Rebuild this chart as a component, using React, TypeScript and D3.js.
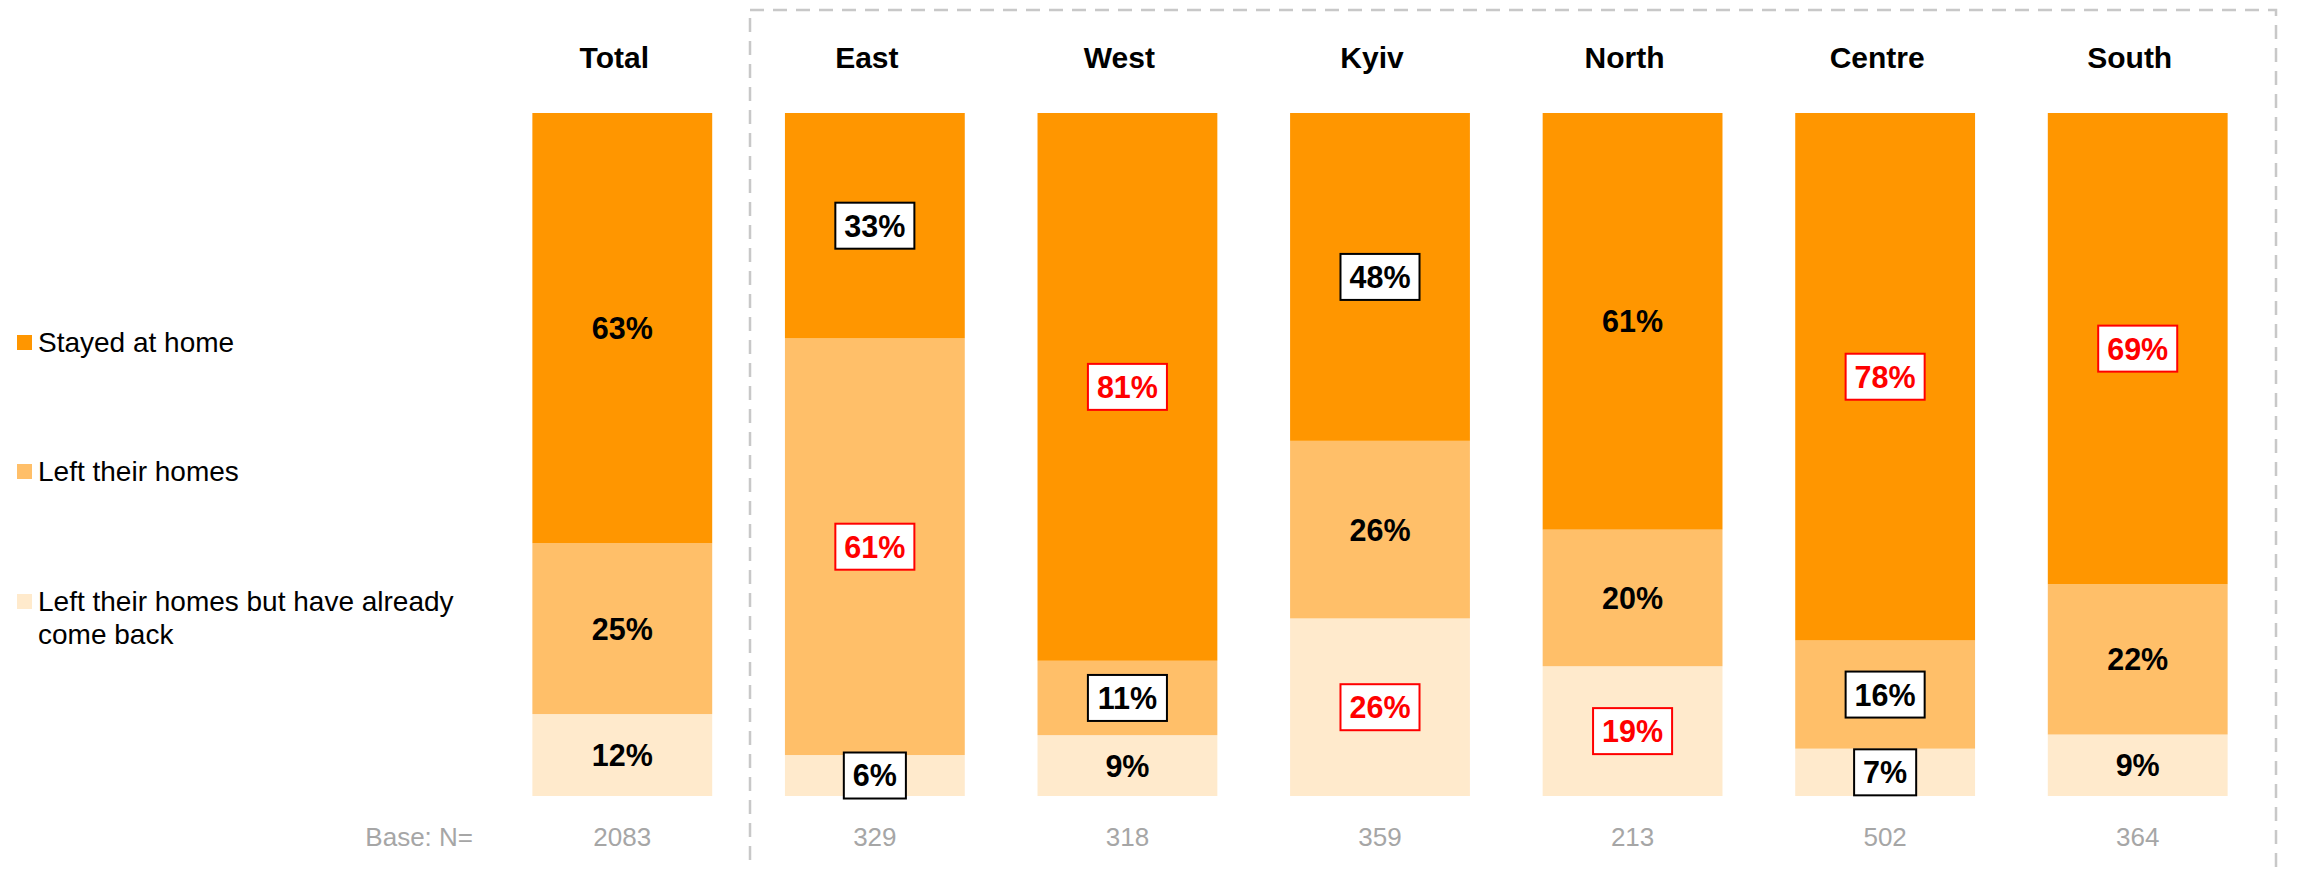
import React from "react";
import * as d3 from "d3";

const categories = ["Total", "East", "West", "Kyiv", "North", "Centre", "South"];
const stayed = [63, 33, 81, 48, 61, 78, 69];
const left = [25, 61, 11, 26, 20, 16, 22];
const returned = [12, 6, 9, 26, 19, 7, 9];
const baseN = ["2083", "329", "318", "359", "213", "502", "364"];
// highlight boxes: "red", "black" or "" (none)
const stayedMark = ["", "black", "red", "black", "", "red", "red"];
const leftMark = ["", "red", "black", "", "", "black", ""];
const returnedMark = ["", "black", "", "red", "red", "black", ""];

const seriesNames = ["Stayed at home", "Left their homes", "Left their homes but have already come back"];
const colors = ["#FF9600", "#FFBF69", "#FFEACC"];

const W = 2298;
const H = 869;
const FONT = "'Liberation Sans', Arial, Helvetica, sans-serif";

export default function App() {
  const x = d3.scaleBand<string>().domain(categories).range([496, 2264]).paddingInner(0.288).paddingOuter(0.144);
  const y = d3.scaleLinear().domain([0, 1]).range([796, 113]);

  const rows = categories.map((c, i) => {
    const vals = [stayed[i], left[i], returned[i]];
    const total = d3.sum(vals);
    return { c, returned: returned[i] / total, left: left[i] / total, stayed: stayed[i] / total, vals, i };
  });
  const keys = ["returned", "left", "stayed"];
  const stack = d3.stack<any>().keys(keys)(rows);
  const marks: Record<string, string[]> = { stayed: stayedMark, left: leftMark, returned: returnedMark };
  const rawVals: Record<string, number[]> = { stayed, left, returned };
  const colorOf: Record<string, string> = { stayed: colors[0], left: colors[1], returned: colors[2] };

  const fontSize = 30.5;
  const charW = (s: string) => {
    let w = 0;
    for (const ch of s) w += ch === "%" ? 0.889 : 0.556;
    return w * fontSize;
  };

  return (
    <svg width={W} height={H} style={{ position: "absolute", left: 0, top: 0, background: "#fff" }} fontFamily={FONT}>
      {/* dashed region border */}
      <rect x={750} y={10} width={1526} height={900} fill="none" stroke="#c8c8c8" strokeWidth={2.5} strokeDasharray="14 9" />

      {/* headers */}
      {categories.map((c) => (
        <text key={"h" + c} x={(x(c) as number) + x.bandwidth() / 2 - 8} y={68} textAnchor="middle" fontSize={30} fontWeight="bold" fill="#000">
          {c}
        </text>
      ))}

      {/* bars */}
      {stack.map((layer) =>
        layer.map((d, j) => (
          <rect
            key={layer.key + j}
            x={x(categories[j]) as number}
            y={y(d[1])}
            width={x.bandwidth()}
            height={y(d[0]) - y(d[1])}
            fill={colorOf[layer.key]}
          />
        ))
      )}

      {/* labels */}
      {stack.map((layer) =>
        layer.map((d, j) => {
          const key = layer.key as string;
          const v = rawVals[key][j];
          const label = v + "%";
          const cx = (x(categories[j]) as number) + x.bandwidth() / 2;
          const cy = (y(d[0]) + y(d[1])) / 2;
          const m = marks[key][j];
          const tw = charW(label);
          const bw = tw + 18;
          const bh = 46;
          return (
            <g key={"l" + key + j}>
              {m && (
                <rect
                  x={cx - bw / 2}
                  y={cy - bh / 2}
                  width={bw}
                  height={bh}
                  fill="#fff"
                  stroke={m === "red" ? "#FF0000" : "#000"}
                  strokeWidth={2}
                />
              )}
              <text x={cx} y={cy} dy="0.36em" textAnchor="middle" fontSize={fontSize} fontWeight="bold" fill={m === "red" ? "#FF0000" : "#000"}>
                {label}
              </text>
            </g>
          );
        })
      )}

      {/* base row */}
      <text x={473} y={846} textAnchor="end" fontSize={26} fill="#a6a6a6">
        Base: N=
      </text>
      {categories.map((c, i) => (
        <text key={"b" + c} x={(x(c) as number) + x.bandwidth() / 2} y={846} textAnchor="middle" fontSize={26} fill="#a6a6a6">
          {baseN[i]}
        </text>
      ))}

      {/* legend */}
      <g>
        <rect x={17} y={335} width={15} height={15} fill={colors[0]} />
        <text x={38} y={352} fontSize={28} fill="#000">{seriesNames[0]}</text>
        <rect x={17} y={464} width={15} height={15} fill={colors[1]} />
        <text x={38} y={481} fontSize={28} fill="#000">{seriesNames[1]}</text>
        <rect x={17} y={594} width={15} height={15} fill={colors[2]} />
        <text x={38} y={611} fontSize={28} fill="#000">
          <tspan x={38}>Left their homes but have already</tspan>
          <tspan x={38} dy={33}>come back</tspan>
        </text>
      </g>
    </svg>
  );
}
